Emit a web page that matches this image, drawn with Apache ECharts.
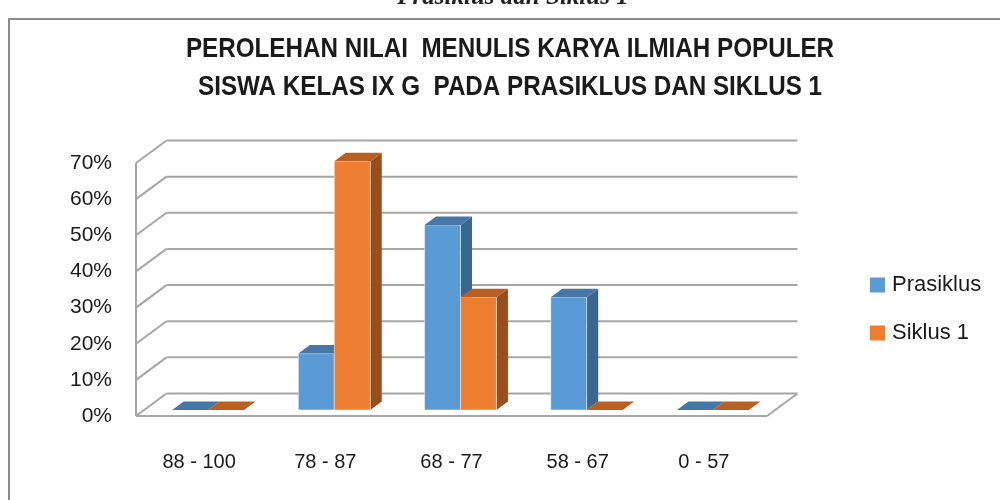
<!DOCTYPE html>
<html>
<head>
<meta charset="utf-8">
<script src="https://cdn.jsdelivr.net/npm/echarts@6/dist/echarts.min.js"></script>
<style>
  html, body { margin: 0; padding: 0; background: #fff; }
  #chart { width: 1000px; height: 500px; }
</style>
</head>
<body>
<div id="chart"></div>
<script>
// data
var categories = ['88 - 100', '78 - 87', '68 - 77', '58 - 67', '0 - 57'];
var prasiklus = [0, 0.156, 0.512, 0.312, 0];
var siklus1 = [0, 0.688, 0.312, 0, 0];
var seriesNames = ['Prasiklus', 'Siklus 1'];
var titleLines = ['PEROLEHAN NILAI  MENULIS KARYA ILMIAH POPULER', 'SISWA KELAS IX G  PADA PRASIKLUS DAN SIKLUS 1'];

// pseudo 3d offsets (px)
var WALL_DX = 30.5, WALL_DY = -22.5;   // front edge -> back wall
var BAR_OX = 9, BAR_OY = -6;           // front edge -> bar front face
var DEPTH_DX = 11.5, DEPTH_DY = -8.5;  // bar depth
var LINE = '#a6a6a6';

var palette = [
  { front: '#5b9bd5', top: '#4677a6', side: '#3a6692' },
  { front: '#ed7d31', top: '#b95f22', side: '#9a4e1b' }
];

function frameItem(params, api) {
  var cs = params.coordSys;
  var left = cs.x, right = cs.x + cs.width;
  var children = [];
  for (var t = 0; t <= 7; t++) {
    var y = api.coord([0, t / 10])[1];
    // diagonal on the left wall
    children.push({ type: 'line', shape: { x1: left, y1: y, x2: left + WALL_DX, y2: y + WALL_DY },
      style: { stroke: LINE, lineWidth: 2 } });
    // gridline on the back wall
    children.push({ type: 'line', shape: { x1: left + WALL_DX, y1: y + WALL_DY, x2: right + WALL_DX, y2: y + WALL_DY },
      style: { stroke: LINE, lineWidth: 2 } });
  }
  var y0 = api.coord([0, 0])[1];
  var y7 = api.coord([0, 0.7])[1];
  children.push({ type: 'line', shape: { x1: left, y1: y0, x2: left, y2: y7 }, style: { stroke: LINE, lineWidth: 2 } });
  children.push({ type: 'line', shape: { x1: left, y1: y0, x2: right, y2: y0 }, style: { stroke: LINE, lineWidth: 2 } });
  children.push({ type: 'line', shape: { x1: right, y1: y0, x2: right + WALL_DX, y2: y0 + WALL_DY }, style: { stroke: LINE, lineWidth: 2 } });
  return { type: 'group', children: children };
}

function barItem(idx) {
  var c = palette[idx];
  return function (params, api) {
    var i = api.value(0), v = api.value(1);
    var base = api.coord([i, 0]);
    var top = api.coord([i, v]);
    var band = api.size([1, 0])[0];
    var w = band * 0.285;
    var cx = base[0] + BAR_OX;
    var x0 = idx === 0 ? cx - w : cx;
    var x1 = x0 + w;
    var yb = base[1] + BAR_OY, yt = top[1] + BAR_OY;
    var kids = [];
    if (yb - yt > 0.5) {
      kids.push({ type: 'polygon', shape: { points: [[x1, yb], [x1 + DEPTH_DX, yb + DEPTH_DY], [x1 + DEPTH_DX, yt + DEPTH_DY], [x1, yt]] },
        style: { fill: c.side } });
      kids.push({ type: 'rect', shape: { x: x0, y: yt, width: w, height: yb - yt },
        style: { fill: c.front, stroke: 'rgba(255,255,255,0.5)', lineWidth: 1 } });
    }
    kids.push({ type: 'polygon', shape: { points: [[x0, yt], [x0 + DEPTH_DX, yt + DEPTH_DY], [x1 + DEPTH_DX, yt + DEPTH_DY], [x1, yt]] },
      style: { fill: c.top } });
    return { type: 'group', children: kids };
  };
}

var titleStyle = { fontFamily: 'Liberation Sans', fontWeight: 'bold', fontSize: 28, fill: '#1a1a1a', align: 'center', verticalAlign: 'middle' };

var chart = echarts.init(document.getElementById('chart'));
chart.setOption({
  animation: false,
  backgroundColor: '#fff',
  legend: {
    orient: 'vertical', left: 870, top: 274, padding: 0,
    itemWidth: 15, itemHeight: 15, itemGap: 26, icon: 'rect',
    data: seriesNames,
    textStyle: { fontFamily: 'Liberation Sans', fontSize: 22, color: '#1a1a1a', padding: [0, 0, 0, 2] }
  },
  grid: { left: 136, right: 233, top: 163, bottom: 84 },
  xAxis: {
    type: 'category', data: categories,
    axisLine: { show: false }, axisTick: { show: false },
    axisLabel: { margin: 36, fontFamily: 'Liberation Sans', fontSize: 20, color: '#1a1a1a' }
  },
  yAxis: {
    type: 'value', min: 0, max: 0.7, interval: 0.1,
    splitLine: { show: false }, axisLine: { show: false }, axisTick: { show: false },
    axisLabel: {
      margin: 24, fontFamily: 'Liberation Sans', fontSize: 21, color: '#1a1a1a', padding: [6, 0, 0, 0],
      formatter: function (v) { return Math.round(v * 100) + '%'; }
    }
  },
  graphic: [
    { type: 'rect', shape: { x: 9, y: 19, width: 1010, height: 500 }, style: { fill: 'none', stroke: '#8c8c8c', lineWidth: 2 }, z: 0 },
    { type: 'text', x: 513, y: -2, style: { text: 'Prasiklus dan Siklus 1', fontFamily: 'Liberation Serif', fontStyle: 'italic', fontWeight: 'bold', fontSize: 25, fill: '#222', align: 'center', verticalAlign: 'middle' } },
    { type: 'text', x: 510, y: 49, scaleX: 0.865, style: Object.assign({ text: titleLines[0] }, titleStyle) },
    { type: 'text', x: 510, y: 87, scaleX: 0.865, style: Object.assign({ text: titleLines[1] }, titleStyle) }
  ],
  series: [
    { type: 'custom', name: 'frame', silent: true, renderItem: frameItem, data: [[0, 0]], encode: { x: 0, y: 1 }, z: 1 },
    { type: 'custom', name: seriesNames[0], itemStyle: { color: palette[0].front }, renderItem: barItem(0),
      data: categories.map(function (c, i) { return [i, prasiklus[i]]; }), encode: { x: 0, y: 1 }, z: 2 },
    { type: 'custom', name: seriesNames[1], itemStyle: { color: palette[1].front }, renderItem: barItem(1),
      data: categories.map(function (c, i) { return [i, siklus1[i]]; }), encode: { x: 0, y: 1 }, z: 2 }
  ]
});
</script>
</body>
</html>
